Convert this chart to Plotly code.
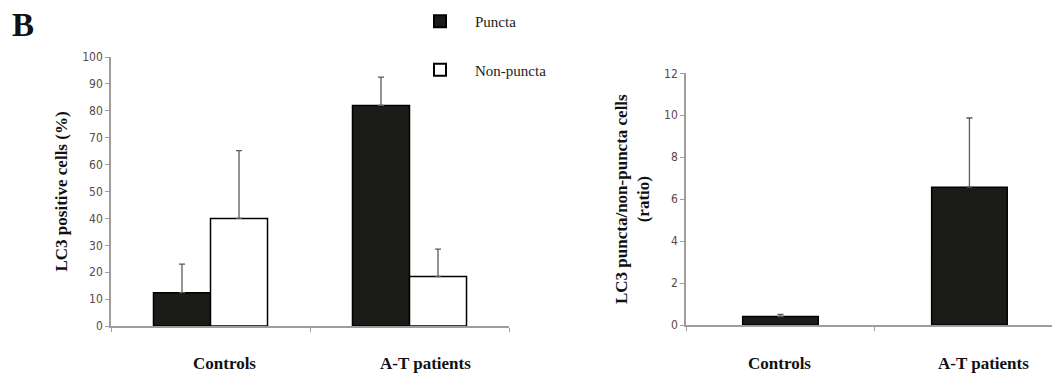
import plotly.graph_objects as go

# ---- data ----
categories = ["Controls", "A-T patients"]
puncta_pct = [12.4, 82.0]
puncta_pct_err_top = [23.0, 92.5]
nonpuncta_pct = [40.0, 18.4]
nonpuncta_pct_err_top = [65.2, 28.6]
ratio = [0.40, 6.57]
ratio_err_top = [0.50, 9.87]
left_yticks = [0, 10, 20, 30, 40, 50, 60, 70, 80, 90, 100]
right_yticks = [0, 2, 4, 6, 8, 10, 12]

BAR_BLACK = "#1b1b17"
AXIS_COL = "#a29c9c"
TICK_COL = "#5b4848"
ERR_COL = "#5a5a5a"
SERIF = "Liberation Serif, Times New Roman, serif"
NARROW = "Liberation Sans Narrow, Arial Narrow, DejaVu Sans Condensed, sans-serif"
W, H = 1052, 373

def up_err(vals, tops):
    return dict(type="data", symmetric=False,
                array=[t - v for v, t in zip(vals, tops)],
                arrayminus=[0] * len(vals),
                color=ERR_COL, thickness=1.3, width=3)

fig = go.Figure()
fig.add_trace(go.Bar(
    x=categories, y=puncta_pct, name="Puncta", legendgroup="a",
    marker=dict(color=BAR_BLACK, line=dict(color="black", width=1.5)),
    error_y=up_err(puncta_pct, puncta_pct_err_top),
    xaxis="x", yaxis="y"))
fig.add_trace(go.Bar(
    x=categories, y=nonpuncta_pct, name="Non-puncta", legendgroup="b",
    marker=dict(color="white", line=dict(color="black", width=1.5)),
    error_y=up_err(nonpuncta_pct, nonpuncta_pct_err_top),
    xaxis="x", yaxis="y"))
fig.add_trace(go.Bar(
    x=categories, y=ratio, name="ratio", showlegend=False, width=0.40,
    marker=dict(color=BAR_BLACK, line=dict(color="black", width=1.5)),
    error_y=up_err(ratio, ratio_err_top),
    xaxis="x2", yaxis="y2"))

axis_common = dict(showline=True, linecolor=AXIS_COL, linewidth=1.5,
                   ticks="outside", ticklen=4, tickcolor=AXIS_COL,
                   showgrid=False, zeroline=False, automargin=False)

TITLE_FONT = dict(family=SERIF, size=17, color="#111", weight="bold")

fig.update_layout(
    width=W, height=H,
    margin=dict(l=0, r=0, t=0, b=0, autoexpand=False),
    paper_bgcolor="white", plot_bgcolor="white",
    barmode="group", bargap=0.427, bargroupgap=0,
    showlegend=True,
    legend=dict(x=405 / W, y=1 - 5 / H, xanchor="left", yanchor="top",
                font=dict(family=SERIF, size=15, color="#222"),
                tracegroupgap=26, bgcolor="rgba(0,0,0,0)",
                itemwidth=60, itemsizing="constant"),
    xaxis=dict(domain=[111 / W, 509 / W], anchor="y",
               type="category", range=[-0.5, 1.5], tickson="boundaries",
               showticklabels=False, **axis_common),
    yaxis=dict(domain=[(H - 326) / H, (H - 57) / H], anchor="x",
               range=[0, 100], tickvals=left_yticks,
               tickfont=dict(family=NARROW, size=12, color=TICK_COL),
               title=dict(text="LC3 positive cells (%)", standoff=10, font=TITLE_FONT),
               **axis_common),
    xaxis2=dict(domain=[686 / W, 1.0], anchor="y2",
                type="category", range=[-0.5, 1.437], tickson="boundaries",
                showticklabels=False, **axis_common),
    yaxis2=dict(domain=[(H - 325) / H, (H - 73.3) / H], anchor="x2",
                range=[0, 12], tickvals=right_yticks,
                tickfont=dict(family=NARROW, size=12, color=TICK_COL),
                title=dict(text="LC3 puncta/non-puncta cells<br>(ratio)", standoff=10,
                           font=TITLE_FONT),
                **axis_common),
)

# category labels below the axes
label_pos = [("x", categories[0], 14), ("x", categories[1], 16),
             ("x2", categories[0], -1), ("x2", categories[1], 14)]
for xref, cat, dx in label_pos:
    fig.add_annotation(x=cat, xref=xref, y=(H - 363) / H, yref="paper",
                       xanchor="center", yanchor="middle",
                       text=cat, showarrow=False, xshift=dx,
                       font=TITLE_FONT)

# panel letter
fig.add_annotation(x=23 / W, y=1 - 25 / H, xref="paper", yref="paper",
                   xanchor="center", yanchor="middle",
                   text="B", showarrow=False,
                   font=dict(family=SERIF, size=33, color="#111", weight="bold"))

fig.write_html("out.html",
               config={"displayModeBar": False},
               post_script="document.body.style.margin='0';document.body.style.overflow='hidden';")
